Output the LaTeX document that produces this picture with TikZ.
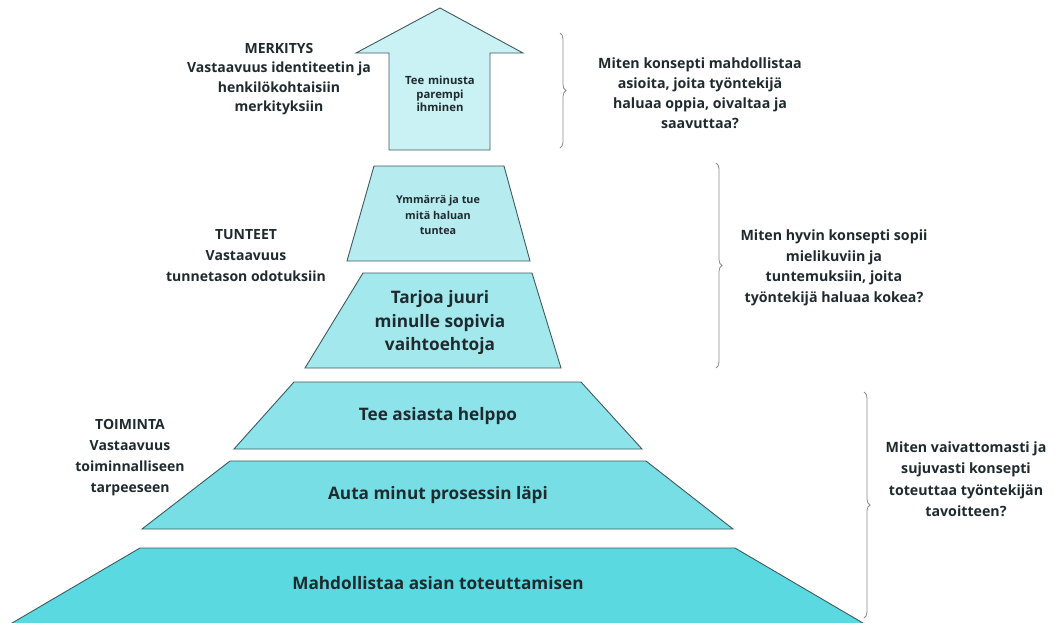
\documentclass[tikz,border=0pt]{standalone}
\usepackage{fontspec}
\setmainfont{Open Sans}
\usetikzlibrary{decorations.pathreplacing}

\definecolor{ink}{HTML}{1F2A2E}
\definecolor{edge}{HTML}{3D5B5F}
\definecolor{bracegray}{HTML}{8C8C8C}
\definecolor{lvA}{HTML}{CAF1F4}
\definecolor{lvB}{HTML}{B6ECF0}
\definecolor{lvC}{HTML}{A3E8ED}
\definecolor{lvD}{HTML}{8CE3E9}
\definecolor{lvE}{HTML}{76DEE4}
\definecolor{lvF}{HTML}{5BD9E0}

\tikzset{
  block/.style={draw=edge, line width=0.9pt, line join=miter},
  txt/.style={text=ink, align=center, inner sep=0pt},
  smalltxt/.style={txt, font=\bfseries\fontsize{11.3}{13.5}\selectfont},
  side/.style={txt, font=\bfseries\fontsize{14.2}{20}\selectfont},
  big/.style={txt, font=\bfseries\fontsize{17.2}{23.5}\selectfont},
  curly/.style={draw=bracegray, line width=0.8pt,
    decorate, decoration={brace, amplitude=6pt}}
}

\begin{document}
\begin{tikzpicture}[x=1pt, y=-1pt]
  \useasboundingbox (0,0) rectangle (1061,622);

  % top level: upward arrow
  \filldraw[block, fill=lvA]
    (440,8) -- (523,53) -- (490,53) -- (490,150) -- (389,150)
    -- (389,53) -- (356,53) -- cycle;
  \node[smalltxt, text width=90pt] (arrowtxt) at (440,94)
    {Tee minusta\\parempi\\ihminen};

  % middle level
  \filldraw[block, fill=lvB]
    (374,166) -- (504,166) -- (530,261) -- (347,261) -- cycle;
  \node[smalltxt, font=\bfseries\fontsize{10.8}{15.5}\selectfont] (feel) at (438,215)
    {Ymmärrä ja tue\\mitä haluan\\tuntea};

  \filldraw[block, fill=lvC]
    (363,273) -- (532,273) -- (561,368) -- (305,368) -- cycle;
  \node[big] (offer) at (440,323)
    {Tarjoa juuri\\minulle sopivia\\vaihtoehtoja};

  % bottom level
  \filldraw[block, fill=lvD]
    (294,382) -- (581,382) -- (642,449) -- (234,449) -- cycle;
  \node[big] (easy) at (438,416) {Tee asiasta helppo};

  \filldraw[block, fill=lvE]
    (230,461) -- (646,461) -- (733,529) -- (142,529) -- cycle;
  \node[big] (guide) at (438,495) {Auta minut prosessin läpi};

  \filldraw[block, fill=lvF]
    (140,548) -- (735,548) -- (868,626) -- (7,626) -- cycle;
  \node[big] (enable) at (438,583) {Mahdollistaa asian toteuttamisen};

  % level captions on the left
  \node[side, font=\bfseries\fontsize{14}{19.5}\selectfont] (meaning) at (279,79)
    {MERKITYS\\Vastaavuus identiteetin ja\\henkilökohtaisiin\\merkityksiin};
  \node[side, font=\bfseries\fontsize{14}{21}\selectfont] (emotion) at (246,256)
    {TUNTEET\\Vastaavuus\\tunnetason odotuksiin};
  \node[side, font=\bfseries\fontsize{14}{21}\selectfont] (action) at (130,458)
    {TOIMINTA\\Vastaavuus\\toiminnalliseen\\tarpeeseen};

  % braces and questions on the right
  \coordinate (b1t) at (560,33);  \coordinate (b1b) at (560,148);
  \coordinate (b2t) at (716,163); \coordinate (b2b) at (716,368);
  \coordinate (b3t) at (864,392); \coordinate (b3b) at (864,618);
  \draw[curly] (b1t) -- (b1b);
  \draw[curly] (b2t) -- (b2b);
  \draw[curly] (b3t) -- (b3b);

  \node[side] (q1) at (700,93)
    {Miten konsepti mahdollistaa\\asioita, joita työntekijä\\haluaa oppia, oivaltaa ja\\saavuttaa?};
  \node[side, font=\bfseries\fontsize{14.2}{20.5}\selectfont] (q2) at (834,268)
    {Miten hyvin konsepti sopii\\mielikuviin ja\\tuntemuksiin, joita\\työntekijä haluaa kokea?};
  \node[side, font=\bfseries\fontsize{14.2}{21.5}\selectfont] (q3) at (966,479)
    {Miten vaivattomasti ja\\sujuvasti konsepti\\toteuttaa työntekijän\\tavoitteen?};
\end{tikzpicture}
\end{document}
